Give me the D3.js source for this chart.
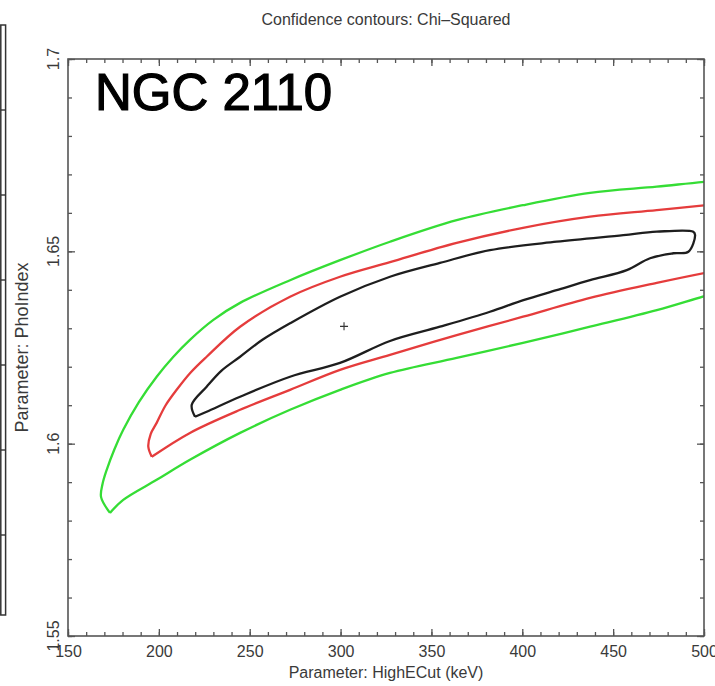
<!DOCTYPE html>
<html>
<head>
<meta charset="utf-8">
<script src="https://cdn.jsdelivr.net/npm/d3@7"></script>
<style>
  html, body { margin: 0; padding: 0; background: #fff; }
  svg { display: block; }
  text { font-family: "Liberation Sans", Arial, sans-serif; fill: #3a3a3a; }
</style>
</head>
<body>
<svg id="chart" width="715" height="686"></svg>
<script>
// ---- data (HighECut keV, PhoIndex) ----
const titleText = "Confidence contours: Chi\u2013Squared";
const xLabel = "Parameter: HighECut (keV)";
const yLabel = "Parameter: PhoIndex";
const annotation = "NGC 2110";
const xDomain = [150, 500];
const yDomain = [1.55, 1.7];
const xMajorTicks = [150, 200, 250, 300, 350, 400, 450, 500];
const yMajorTicks = [1.55, 1.6, 1.65, 1.7];
const yTickLabels = ["1.55", "1.6", "1.65", "1.7"];

const contourGreenX = [173.1, 168.2, 169.0, 171.3, 175.5, 180.4, 189.0, 198.8, 208.0, 217.1, 230.0, 244.7, 272.2, 299.7, 327.2, 363.9, 400.4, 437.3, 474.0, 500.6, 560.0,
                       560.0, 500.6, 474.0, 437.3, 400.4, 363.9, 327.2, 299.7, 272.2, 244.7, 217.1, 198.8, 180.4, 173.1];
const contourGreenY = [1.5820, 1.5861, 1.5895, 1.5932, 1.5985, 1.6036, 1.6108, 1.6174, 1.6226, 1.6270, 1.6322, 1.6366, 1.6425, 1.6477, 1.6525, 1.6581, 1.6620, 1.6652, 1.6668, 1.6681, 1.6705,
                       1.6465, 1.6384, 1.6347, 1.6304, 1.6262, 1.6223, 1.6184, 1.6140, 1.6088, 1.6028, 1.5958, 1.5906, 1.5854, 1.5820];

const contourRedX = [196.1, 194.2, 195.5, 198.8, 203.5, 209.8, 217.5, 226.3, 244.7, 272.2, 299.7, 327.2, 363.9, 400.4, 437.3, 474.0, 500.6, 560.0,
                     560.0, 500.6, 474.0, 437.3, 400.4, 363.9, 327.2, 299.7, 272.2, 244.7, 217.1, 196.1];
const contourRedY = [1.5966, 1.5992, 1.6025, 1.6054, 1.6098, 1.6140, 1.6185, 1.6226, 1.6304, 1.6382, 1.6434, 1.6472, 1.6522, 1.6561, 1.6590, 1.6607, 1.6620, 1.6650,
                     1.6495, 1.6444, 1.6418, 1.6379, 1.6330, 1.6282, 1.6231, 1.6192, 1.6140, 1.6088, 1.6028, 1.5966];

const contourBlackX = [219.9, 218.1, 226.3, 234.5, 244.7, 257.0, 272.2, 299.7, 327.2, 354.7, 382.2, 418.9, 455.6, 474.0, 494.1, 495.1,
                       491.4, 483.1, 470.3, 457.5, 437.3, 418.9, 400.6, 382.2, 354.7, 327.2, 299.7, 272.2, 244.7, 226.3, 219.9];
const contourBlackY = [1.6070, 1.6101, 1.6148, 1.6190, 1.6226, 1.6270, 1.6313, 1.6382, 1.6434, 1.6470, 1.6503, 1.6525, 1.6542, 1.6551, 1.6551, 1.6542,
                       1.6499, 1.6495, 1.6482, 1.6451, 1.6425, 1.6399, 1.6373, 1.6343, 1.6304, 1.6267, 1.6210, 1.6174, 1.6122, 1.6083, 1.6070];

const bestFitX = [301.9];
const bestFitY = [1.6305];

// ---- layout ----
const svg = d3.select("#chart");
const L = 68, R = 704, T = 59, B = 636;
const x = d3.scaleLinear().domain(xDomain).range([L, R]);
const y = d3.scaleLinear().domain(yDomain).range([B, T]);

// cropped neighbouring panel at far left
const sideTicks = [110, 195, 280, 365, 450, 535];
svg.append("rect").attr("x", 0.8).attr("y", 25).attr("width", 4.8).attr("height", 590)
  .attr("fill", "none").attr("stroke", "#333").attr("stroke-width", 1.5);
svg.selectAll("line.side").data(sideTicks).join("line")
  .attr("x1", 1).attr("x2", 5.5).attr("y1", d => d).attr("y2", d => d)
  .attr("stroke", "#333").attr("stroke-width", 1.4);

// clip
svg.append("clipPath").attr("id", "plotclip").append("rect")
  .attr("x", L).attr("y", T).attr("width", R - L).attr("height", B - T);

// contours
const line = d3.line().x(d => x(d[0])).y(d => y(d[1])).curve(d3.curveCatmullRom.alpha(0.5));
const contours = [
  { xs: contourGreenX, ys: contourGreenY, color: "#35dd35" },
  { xs: contourRedX, ys: contourRedY, color: "#e53c3c" },
  { xs: contourBlackX, ys: contourBlackY, color: "#1e1e1e" }
];
const cg = svg.append("g").attr("clip-path", "url(#plotclip)");
contours.forEach(c => {
  const pts = c.xs.map((v, i) => [v, c.ys[i]]);
  cg.append("path").attr("d", line(pts)).attr("fill", "none")
    .attr("stroke", c.color).attr("stroke-width", 2.3).attr("stroke-linejoin", "round");
});

// best fit cross
bestFitX.forEach((bx, i) => {
  const px = x(bx), py = y(bestFitY[i]);
  cg.append("path").attr("d", `M${px - 4},${py}H${px + 4}M${px},${py - 4}V${py + 4}`)
    .attr("stroke", "#333").attr("stroke-width", 1.1);
});

// axes with inward ticks
const axisColor = "#555";
const xMinor = d3.range(xDomain[0], xDomain[1] + 0.001, 10);
const yMinor = d3.range(0, 16).map(i => yDomain[0] + i * 0.01);

function styleAxis(g) {
  g.select(".domain").remove();
  g.selectAll("line").attr("stroke", axisColor).attr("stroke-width", 1.3);
}
svg.append("g").attr("transform", `translate(0,${B})`)
  .call(d3.axisBottom(x).tickValues(xMinor).tickSize(-4).tickFormat("")).call(styleAxis);
svg.append("g").attr("transform", `translate(0,${B})`)
  .call(d3.axisBottom(x).tickValues(xMajorTicks).tickSize(-7).tickPadding(10).tickFormat(d3.format("d")))
  .call(styleAxis)
  .call(g => g.selectAll("text").attr("font-size", 16).attr("fill", "#3a3a3a")
    .attr("font-family", "'Liberation Sans', Arial, sans-serif"));
svg.append("g").attr("transform", `translate(0,${T})`)
  .call(d3.axisTop(x).tickValues(xMinor).tickSize(-4).tickFormat("")).call(styleAxis);
svg.append("g").attr("transform", `translate(0,${T})`)
  .call(d3.axisTop(x).tickValues(xMajorTicks).tickSize(-7).tickFormat("")).call(styleAxis);
svg.append("g").attr("transform", `translate(${L},0)`)
  .call(d3.axisLeft(y).tickValues(yMinor).tickSize(-4).tickFormat("")).call(styleAxis);
svg.append("g").attr("transform", `translate(${L},0)`)
  .call(d3.axisLeft(y).tickValues(yMajorTicks).tickSize(-7).tickFormat("")).call(styleAxis);
svg.append("g").attr("transform", `translate(${R},0)`)
  .call(d3.axisRight(y).tickValues(yMinor).tickSize(-4).tickFormat("")).call(styleAxis);
svg.append("g").attr("transform", `translate(${R},0)`)
  .call(d3.axisRight(y).tickValues(yMajorTicks).tickSize(-7).tickFormat("")).call(styleAxis);

// frame
svg.append("rect").attr("x", L).attr("y", T).attr("width", R - L).attr("height", B - T)
  .attr("fill", "none").attr("stroke", axisColor).attr("stroke-width", 1.6);

// rotated y tick labels
svg.selectAll("text.ytl").data(yMajorTicks).join("text")
  .attr("class", "ytl")
  .attr("transform", d => `translate(59,${y(d)}) rotate(-90)`)
  .attr("text-anchor", "middle").attr("font-size", 16)
  .text((d, i) => yTickLabels[i]);

// titles
svg.append("text").attr("x", (L + R) / 2).attr("y", 25).attr("text-anchor", "middle")
  .attr("font-size", 16).text(titleText);
svg.append("text").attr("x", (L + R) / 2).attr("y", 678).attr("text-anchor", "middle")
  .attr("font-size", 16).text(xLabel);
svg.append("text").attr("transform", `translate(28,${(T + B) / 2}) rotate(-90)`)
  .attr("text-anchor", "middle").attr("font-size", 18).text(yLabel);

// annotation
svg.append("text").attr("x", 95).attr("y", 110)
  .attr("font-family", "'Comic Sans MS', 'DejaVu Sans', sans-serif")
  .attr("font-size", 51).style("fill", "#000")
  .attr("stroke", "#000").attr("stroke-width", 1.2).text(annotation);
</script>
</body>
</html>
